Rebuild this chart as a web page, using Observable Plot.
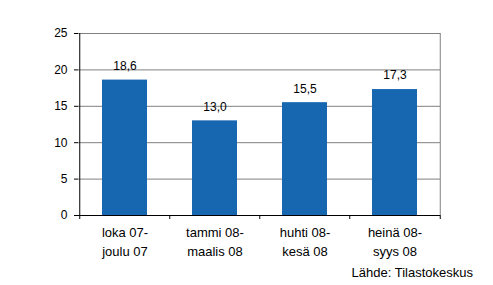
<!DOCTYPE html>
<html>
<head>
<meta charset="utf-8">
<script src="https://cdn.jsdelivr.net/npm/d3@7"></script>
<script src="https://cdn.jsdelivr.net/npm/@observablehq/plot@0.6"></script>
<style>
  body { margin: 0; background: #fff; font-family: "Liberation Sans", Arial, sans-serif; }
  #wrap { position: relative; width: 493px; height: 285px; }
  #source { position: absolute; right: 20px; top: 265px; font-size: 13px; line-height: 15px; color: #000; }
</style>
</head>
<body>
<div id="wrap"><div id="chart"></div><div id="source">Lähde: Tilastokeskus</div></div>
<script>
const categories = ["loka 07-\njoulu 07", "tammi 08-\nmaalis 08", "huhti 08-\nkesä 08", "heinä 08-\nsyys 08"];
const values = [18.6, 13.0, 15.5, 17.3];
const yTicks = [0, 5, 10, 15, 20, 25];

const data = categories.map((c, i) => ({cat: c, value: values[i]}));
const fmt = v => d3.format(".1f")(v).replace(".", ",");

const W = 493, ML = 78, MR = 53;
const step = (W - ML - MR) / categories.length;
const last = categories[categories.length - 1];

const chart = Plot.plot({
  width: W,
  height: 285,
  marginLeft: ML,
  marginRight: MR,
  marginTop: 33,
  marginBottom: 70,
  style: {fontFamily: "'Liberation Sans', Arial, sans-serif", fontSize: "12px", color: "#000", background: "#fff"},
  x: {domain: categories, paddingInner: 0.5, paddingOuter: 0.25, label: null},
  y: {domain: [0, 25], label: null},
  marks: [
    Plot.ruleY(yTicks.filter(t => t > 0), {stroke: "#808080"}),
    Plot.ruleX([last], {x: d => d, y1: 0, y2: 25, dx: step / 2, stroke: "#808080"}),
    Plot.barY(data, {x: "cat", y: "value", fill: "#1766b0"}),
    Plot.text(data, {x: "cat", y: "value", text: d => fmt(d.value), dy: -14, fill: "#000", fontSize: 12}),
    Plot.axisY({ticks: yTicks, tickSize: 4, tickPadding: 7, stroke: "#000", label: null, fontSize: 12}),
    Plot.axisX({tickSize: 0, tickPadding: 8, lineHeight: 1.45, label: null, fontSize: 13}),
    Plot.ruleY([0], {stroke: "#000"}),
    Plot.ruleX([categories[0]], {x: d => d, y1: 0, y2: 25, dx: -step / 2, stroke: "#000"}),
    Plot.ruleX(categories, {x: d => d, y1: 0, y2: 0, dx: -step / 2, insetBottom: -4, stroke: "#000"}),
    Plot.ruleX([last], {x: d => d, y1: 0, y2: 0, dx: step / 2, insetBottom: -4, stroke: "#000"})
  ]
});
document.getElementById("chart").appendChild(chart);
</script>
</body>
</html>
